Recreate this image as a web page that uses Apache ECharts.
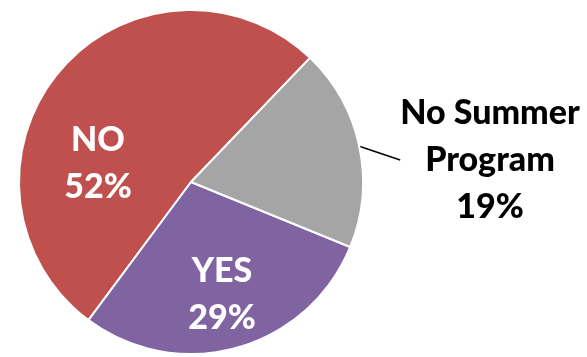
<!DOCTYPE html>
<html>
<head>
<meta charset="utf-8">
<script src="https://cdn.jsdelivr.net/npm/echarts@6/dist/echarts.min.js"></script>
<style>
html,body{margin:0;padding:0;background:#fff;}
#chart{width:587px;height:357px;}
</style>
</head>
<body>
<div id="chart"></div>
<script>
const categories = ['NO', 'YES', 'No Summer Program'];
const labelTexts = ['NO', 'YES', 'No Summer\nProgram'];
const values = [52, 29, 19];
const colors = ['#C0504D', '#8064A2', '#A5A5A5'];

const chart = echarts.init(document.getElementById('chart'));
const labelPos = [[98, 164], [222, 295], [490, 160]];

chart.setOption({
  animation: false,
  series: [{
    type: 'pie',
    center: [191, 182],
    radius: 172,
    clockwise: false,
    startAngle: 46.2,
    data: categories.map((c, i) => ({
      name: c,
      value: values[i],
      itemStyle: { color: colors[i] },
      label: i === 2 ? {
        position: 'outside',
        color: '#000'
      } : {
        position: 'inside',
        color: '#fff'
      },
      labelLine: i === 2 ? { show: true, length: 12, length2: 0, smooth: false, lineStyle: { color: '#000', width: 1.5 } } : { show: false }
    })),
    label: {
      formatter: p => labelTexts[p.dataIndex] + '\n' + p.value + '%',
      fontFamily: 'Lato',
      fontWeight: 900,
      fontSize: 34,
      lineHeight: 47,
      align: 'center',
      verticalAlign: 'middle'
    },
    labelLayout: function (params) {
      const p = labelPos[params.dataIndex];
      return { x: p[0], y: p[1], align: 'center', verticalAlign: 'middle' };
    },
    itemStyle: {
      borderColor: '#fff',
      borderWidth: 2
    },
    emphasis: { disabled: true }
  }]
});
</script>
</body>
</html>
